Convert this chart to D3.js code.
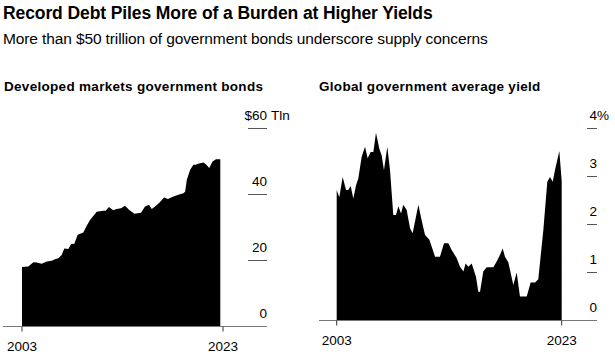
<!DOCTYPE html>
<html>
<head>
<meta charset="utf-8">
<script src="https://cdn.jsdelivr.net/npm/d3@7"></script>
<style>
  body { margin: 0; background: #fff; }
  svg text { font-family: "Liberation Sans", Arial, sans-serif; fill: #000; white-space: pre; }
  .title { font-weight: bold; }
</style>
</head>
<body>
<div id="chart"></div>
<script>
// Developed markets government bonds, $ trillions
const bondYears = [2003.0, 2003.63, 2004.13, 2004.46, 2004.96, 2005.46, 2005.96, 2006.28, 2006.62, 2006.95,
  2007.21, 2007.61, 2007.88, 2008.21, 2008.54, 2009.10, 2009.44, 2009.77, 2010.43, 2011.09,
  2011.32, 2011.65, 2012.08, 2012.42, 2012.85, 2013.25, 2013.65, 2014.18, 2014.84, 2015.24,
  2015.64, 2015.91, 2016.24, 2016.64, 2017.14, 2017.51, 2018.07, 2018.56, 2019.06, 2019.23,
  2019.40, 2019.73, 2020.06, 2020.30, 2020.50, 2021.06, 2021.30, 2021.63, 2021.96, 2022.30, 2022.73];
const bondValues = [18.0, 18.2, 19.5, 19.4, 19.0, 19.7, 19.9, 20.4, 20.7, 21.7,
  23.6, 23.5, 25.0, 25.1, 27.8, 28.5, 30.5, 32.3, 34.8, 35.1,
  35.1, 36.2, 35.2, 35.6, 35.8, 36.6, 35.4, 34.2, 34.5, 36.4,
  36.9, 35.6, 36.4, 37.4, 39.1, 38.6, 39.4, 39.9, 40.4, 40.8,
  44.5, 47.5, 49.0, 49.0, 49.3, 49.7, 49.2, 48.0, 50.0, 50.7, 50.7];

// Global government average yield, %
const yieldYears = [2003.0, 2003.23, 2003.53, 2003.83, 2004.03, 2004.24, 2004.48, 2004.72, 2004.92, 2005.22,
  2005.52, 2005.75, 2006.02, 2006.26, 2006.49, 2006.79, 2007.00, 2007.20, 2007.50, 2007.74,
  2008.03, 2008.27, 2008.48, 2008.72, 2008.92, 2009.22, 2009.52, 2009.75, 2010.26, 2010.55,
  2010.85, 2011.23, 2011.74, 2012.18, 2012.54, 2012.92, 2013.22, 2013.66, 2013.96, 2014.26,
  2014.46, 2014.70, 2015.00, 2015.38, 2015.59, 2015.74, 2016.03, 2016.33, 2016.92, 2017.22,
  2017.52, 2017.75, 2017.96, 2018.26, 2018.70, 2019.00, 2019.29, 2019.89, 2020.24, 2020.63,
  2020.92, 2021.37, 2021.72, 2021.96, 2022.20, 2022.40, 2022.79, 2023.0];
const yieldValues = [2.72, 2.57, 2.99, 2.72, 2.72, 2.80, 2.54, 2.82, 2.96, 3.41,
  3.62, 3.38, 3.51, 3.51, 3.91, 3.58, 3.44, 3.13, 3.62, 3.13,
  2.20, 2.20, 2.38, 2.23, 2.41, 2.30, 1.92, 1.82, 2.41, 2.09,
  1.78, 1.69, 1.33, 1.33, 1.61, 1.61, 1.47, 1.30, 1.12, 1.02,
  1.19, 1.12, 1.19, 0.91, 0.60, 0.60, 1.02, 1.11, 1.11, 1.23,
  1.37, 1.50, 1.33, 1.21, 0.74, 1.00, 0.50, 0.50, 0.79, 0.79,
  0.86, 1.89, 2.89, 2.99, 2.89, 3.13, 3.53, 2.90];

const bondTicks = [0, 20, 40, 60];
const yieldTicks = [0, 1, 2, 3, 4];
const yearTicks = [2003, 2023];

const width = 615;
const height = 361;

const svg = d3.select('#chart')
  .append('svg')
  .attr('width', width)
  .attr('height', height);

svg.append('text')
  .attr('class', 'title')
  .attr('x', 3)
  .attr('y', 19)
  .style('font-size', '17.5px')
  .style('letter-spacing', '-0.1px')
  .text('Record Debt Piles More of a Burden at Higher Yields');

svg.append('text')
  .attr('x', 3)
  .attr('y', 44)
  .style('font-size', '15.5px')
  .style('letter-spacing', '-0.12px')
  .text('More than $50 trillion of government bonds underscore supply concerns');

function panel(opts) {
  const g = svg.append('g');
  const data = opts.years.map((yr, i) => ({ yr: yr, v: opts.values[i] }));

  const x = d3.scaleLinear().domain([2003, 2023]).range(opts.xRange);
  const y = d3.scaleLinear().domain(opts.yDomain).range([opts.base, 128.5]);

  g.append('text')
    .attr('class', 'title')
    .attr('x', opts.titleX)
    .attr('y', 91)
    .style('font-size', '13.5px')
    .style('letter-spacing', '0.3px')
    .text(opts.title);

  const area = d3.area()
    .x((d) => x(d.yr))
    .y0(y(0))
    .y1((d) => y(d.v));

  g.append('path')
    .datum(data)
    .attr('d', area)
    .attr('fill', '#000');

  // baseline
  g.append('line')
    .attr('x1', opts.axisX[0])
    .attr('x2', opts.axisX[1])
    .attr('y1', y(0))
    .attr('y2', y(0))
    .attr('stroke', '#777')
    .attr('stroke-width', 1);

  // year ticks
  yearTicks.forEach((yr) => {
    g.append('line')
      .attr('x1', x(yr)).attr('x2', x(yr))
      .attr('y1', y(0)).attr('y2', y(0) + 5)
      .attr('stroke', '#333');
    g.append('text')
      .attr('x', x(yr))
      .attr('y', y(0) + 24)
      .attr('text-anchor', 'middle')
      .style('font-size', '13.5px')
      .text(yr);
  });

  // value ticks on the right
  opts.ticks.forEach((t, i) => {
    const last = i === opts.ticks.length - 1;
    if (t !== 0) {
      g.append('line')
        .attr('x1', opts.tickX[0]).attr('x2', opts.tickX[1])
        .attr('y1', y(t)).attr('y2', y(t))
        .attr('stroke', '#555');
    }
    g.append('text')
      .attr('x', opts.tickX[1])
      .attr('y', y(t) - 9)
      .attr('text-anchor', 'end')
      .style('font-size', '13.5px')
      .text((last ? opts.prefix : '') + t);
    if (last) {
      g.append('text')
        .attr('x', opts.tickX[1] + opts.suffixGap)
        .attr('y', y(t) - 9)
        .style('font-size', '13.5px')
        .text(opts.suffix);
    }
  });
}

panel({
  title: 'Developed markets government bonds',
  titleX: 4,
  years: bondYears,
  values: bondValues,
  yDomain: [0, 60],
  ticks: bondTicks,
  xRange: [22, 223],
  base: 326.5,
  axisX: [3, 267],
  tickX: [248, 267],
  prefix: '$',
  suffix: 'Tln',
  suffixGap: 4
});

panel({
  title: 'Global government average yield',
  titleX: 319,
  years: yieldYears,
  values: yieldValues,
  yDomain: [0, 4],
  ticks: yieldTicks,
  xRange: [336.7, 561.7],
  base: 320.5,
  axisX: [319, 597],
  tickX: [587, 597],
  prefix: '',
  suffix: '%',
  suffixGap: 0
});
</script>
</body>
</html>
